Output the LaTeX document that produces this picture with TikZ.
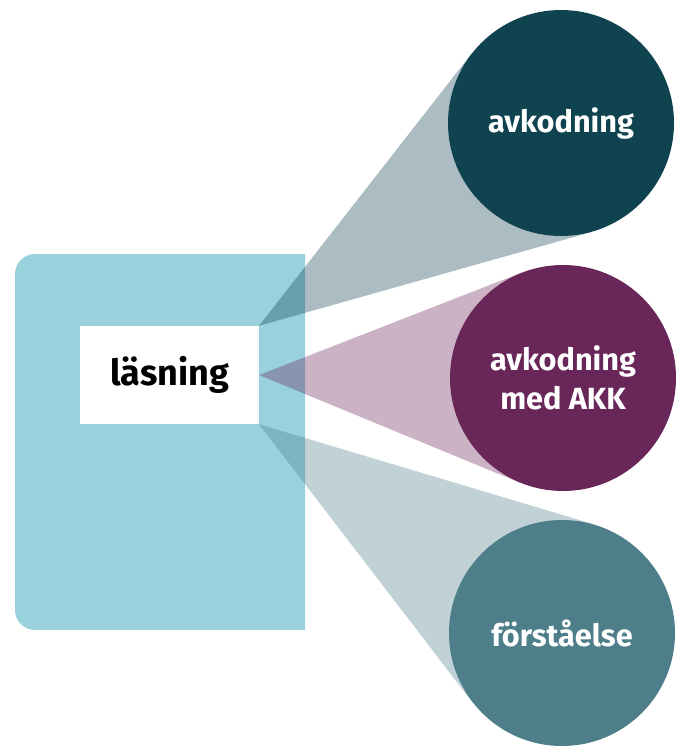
\documentclass[tikz,border=0pt]{standalone}
\usepackage{fontspec}
\setmainfont{Fira Sans}
\usetikzlibrary{calc,backgrounds}

\definecolor{boxblue}{RGB}{153,209,221}
\definecolor{darkteal}{RGB}{15,67,79}
\definecolor{plum}{RGB}{105,38,88}
\definecolor{midteal}{RGB}{77,126,137}

\begin{document}
\begin{tikzpicture}[x=0.75pt,y=-0.75pt,
  topic/.style={circle,minimum size=169.5pt,inner sep=0pt,text=white,
    font=\bfseries\fontsize{23}{29.5}\selectfont,align=center},
  cone/.style={fill opacity=0.35}]

\useasboundingbox (0,0) rectangle (675,750);

\node[topic,fill=darkteal] (dec) at (561,123) {avkodning};
\node[topic,fill=plum] (akk) at (563,378) {avkodning\\med AKK};
\node[topic,fill=midteal] (comp) at (562,633) {förståelse};

\begin{scope}[on background layer]
\fill[boxblue] (305,254) [rounded corners=15pt] -- (15,254) -- (15,630) [sharp corners] -- (305,630) -- cycle;
\node[fill=white,minimum width=134pt,minimum height=73.5pt,inner sep=0pt,
  font=\bfseries\fontsize{27}{30}\selectfont] (read) at (169.5,375) {läsning};

\fill[cone,darkteal] (read.north east)
  -- (tangent cs:node=dec,point={(read.north east)},solution=1)
  -- (tangent cs:node=dec,point={(read.north east)},solution=2) -- cycle;
\fill[cone,plum] (read.east)
  -- (tangent cs:node=akk,point={(read.east)},solution=1)
  -- (tangent cs:node=akk,point={(read.east)},solution=2) -- cycle;
\fill[cone,midteal] (read.south east)
  -- (tangent cs:node=comp,point={(read.south east)},solution=1)
  -- (tangent cs:node=comp,point={(read.south east)},solution=2) -- cycle;
\end{scope}
\end{tikzpicture}
\end{document}
